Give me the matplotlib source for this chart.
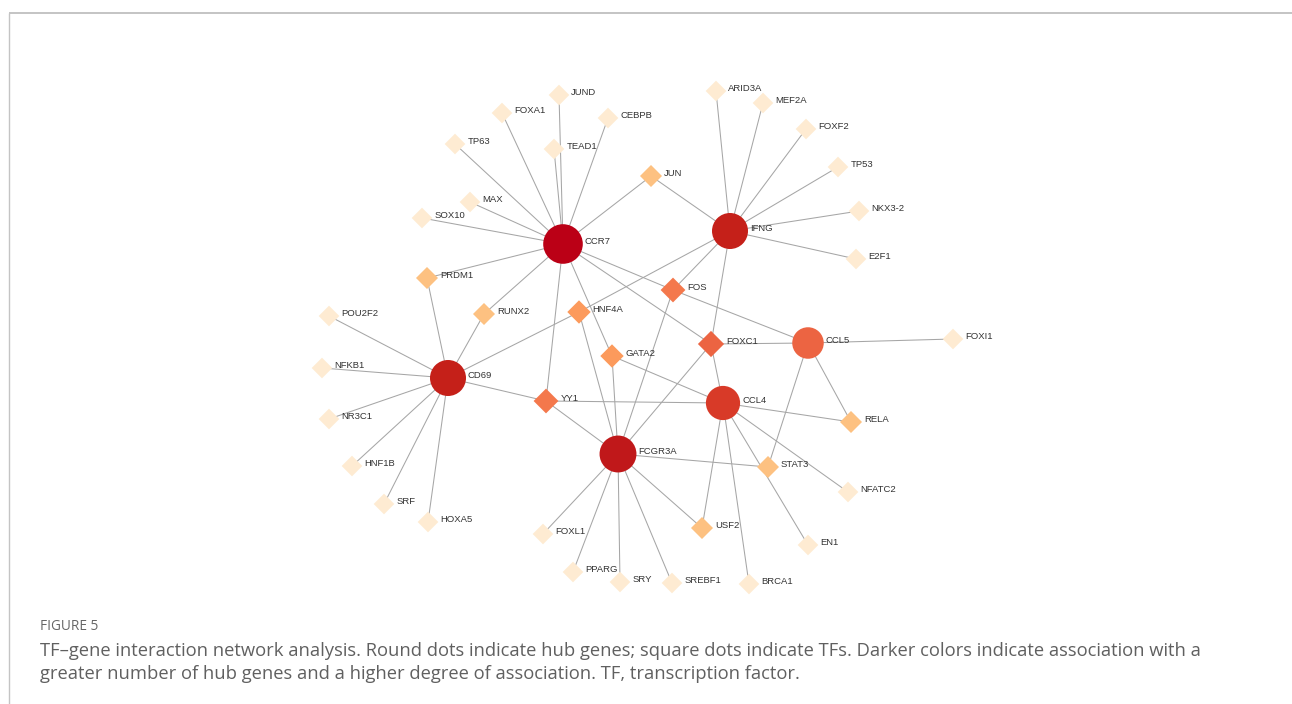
import matplotlib
matplotlib.use("Agg")
import matplotlib.pyplot as plt
from matplotlib.patches import Circle, RegularPolygon
from matplotlib.colors import LinearSegmentedColormap

# Hub genes (drawn as circles) and transcription factors (drawn as diamonds)
hub_genes = ["CCR7", "IFNG", "CD69", "FCGR3A", "CCL4", "CCL5"]

# TF -> hub gene interactions
edges = [
    ("CCR7", "JUND"), ("CCR7", "FOXA1"), ("CCR7", "CEBPB"), ("CCR7", "TP63"),
    ("CCR7", "TEAD1"), ("CCR7", "JUN"), ("CCR7", "MAX"), ("CCR7", "SOX10"),
    ("CCR7", "PRDM1"), ("CCR7", "RUNX2"), ("CCR7", "GATA2"), ("CCR7", "FOS"),
    ("CCR7", "FOXC1"), ("CCR7", "YY1"),
    ("IFNG", "ARID3A"), ("IFNG", "MEF2A"), ("IFNG", "FOXF2"), ("IFNG", "TP53"),
    ("IFNG", "NKX3-2"), ("IFNG", "E2F1"), ("IFNG", "JUN"), ("IFNG", "HNF4A"),
    ("IFNG", "FOS"), ("IFNG", "FOXC1"),
    ("CD69", "PRDM1"), ("CD69", "RUNX2"), ("CD69", "HNF4A"), ("CD69", "YY1"),
    ("CD69", "POU2F2"), ("CD69", "NFKB1"), ("CD69", "NR3C1"), ("CD69", "HNF1B"),
    ("CD69", "SRF"), ("CD69", "HOXA5"),
    ("FCGR3A", "YY1"), ("FCGR3A", "HNF4A"), ("FCGR3A", "GATA2"), ("FCGR3A", "FOS"),
    ("FCGR3A", "FOXC1"), ("FCGR3A", "STAT3"), ("FCGR3A", "USF2"), ("FCGR3A", "SREBF1"),
    ("FCGR3A", "SRY"), ("FCGR3A", "PPARG"), ("FCGR3A", "FOXL1"),
    ("CCL4", "FOXC1"), ("CCL4", "GATA2"), ("CCL4", "YY1"), ("CCL4", "RELA"),
    ("CCL4", "NFATC2"), ("CCL4", "EN1"), ("CCL4", "BRCA1"), ("CCL4", "USF2"),
    ("CCL5", "FOS"), ("CCL5", "FOXC1"), ("CCL5", "FOXI1"), ("CCL5", "RELA"),
    ("CCL5", "STAT3"),
]

# Network layout (canvas pixel coordinates, y downwards)
layout = {
    "CCR7": (563, 244), "IFNG": (730, 231), "CD69": (448, 378),
    "FCGR3A": (618, 454), "CCL4": (723, 403), "CCL5": (808, 343),
    "JUND": (559, 95), "FOXA1": (502, 113), "CEBPB": (608, 118), "TP63": (455, 144),
    "TEAD1": (554, 149), "JUN": (651, 176), "MAX": (470, 202), "SOX10": (422, 218),
    "PRDM1": (427, 278), "RUNX2": (484, 314), "HNF4A": (579, 312), "FOS": (673, 290),
    "GATA2": (612, 356), "FOXC1": (711, 344), "YY1": (546, 401),
    "ARID3A": (716, 91), "MEF2A": (763, 103), "FOXF2": (806, 129), "TP53": (838, 167),
    "NKX3-2": (859, 211), "E2F1": (856, 259),
    "POU2F2": (329, 316), "NFKB1": (322, 368), "NR3C1": (329, 419), "HNF1B": (352, 466),
    "SRF": (384, 504), "HOXA5": (428, 522),
    "FOXL1": (543, 534), "PPARG": (573, 572), "SRY": (620, 582), "SREBF1": (672, 583),
    "USF2": (702, 528), "BRCA1": (749, 584), "EN1": (808, 545), "STAT3": (768, 467),
    "NFATC2": (848, 492), "RELA": (851, 422), "FOXI1": (953, 339),
}

caption_title = "FIGURE 5"
caption_lines = [
    "TF\u2013gene interaction network analysis. Round dots indicate hub genes; square dots indicate TFs. Darker colors indicate association with a",
    "greater number of hub genes and a higher degree of association. TF, transcription factor.",
]

# Degree of every node
degree = {}
for a, b in edges:
    degree[a] = degree.get(a, 0) + 1
    degree[b] = degree.get(b, 0) + 1

# Continuous degree -> colour mapping
color_stops = [(1, "#FEEBD2"), (2, "#FDC07E"), (3, "#FC9A5C"), (4, "#F4784C"),
               (5, "#EC6442"), (8, "#D83A28"), (10, "#C52019"), (11, "#C0181A"),
               (14, "#BB0016")]
dmin, dmax = color_stops[0][0], color_stops[-1][0]
cmap = LinearSegmentedColormap.from_list(
    "degree", [((d - dmin) / (dmax - dmin), c) for d, c in color_stops])


def node_color(n):
    return cmap((degree[n] - dmin) / (dmax - dmin))


W, H = 1292, 704
fig = plt.figure(figsize=(W / 100, H / 100), dpi=100)
ax = fig.add_axes([0, 0, 1, 1])
ax.set_xlim(0, W)
ax.set_ylim(H, 0)
ax.axis("off")

# page frame
ax.plot([9, W], [13, 13], color="#C4C4C4", lw=1.4, solid_capstyle="butt", zorder=1)
ax.plot([9, 9], [13, H], color="#C4C4C4", lw=1.0, solid_capstyle="butt", zorder=1)

# edges
for a, b in edges:
    (x1, y1), (x2, y2) = layout[a], layout[b]
    ax.plot([x1, x2], [y1, y2], color="#A6A6A6", lw=0.75, zorder=2)

# nodes and labels
label_font = dict(family="Liberation Sans", fontsize=6.8, color="#333333")
for n, (x, y) in layout.items():
    d = degree[n]
    if n in hub_genes:
        r = 13.5 + 0.45 * d
        ax.add_patch(Circle((x, y), r, facecolor=node_color(n), edgecolor="none", zorder=4))
    else:
        r = 9.6 + 0.7 * d
        ax.add_patch(RegularPolygon((x, y), numVertices=4, radius=r, orientation=0,
                                    facecolor=node_color(n), edgecolor="none", zorder=3))
    ax.text(x + r + 2, y - 2.5, n, ha="left", va="center", zorder=5, **label_font)

# caption
ax.text(40, 626, caption_title, ha="left", va="center", family="Open Sans",
        fontsize=9.8, color="#666666")
for i, line in enumerate(caption_lines):
    ax.text(40, 650.5 + 23.5 * i, line, ha="left", va="center", family="Open Sans",
            fontsize=13.2, color="#606060")

fig.savefig("out.png", dpi=100, facecolor="white")
